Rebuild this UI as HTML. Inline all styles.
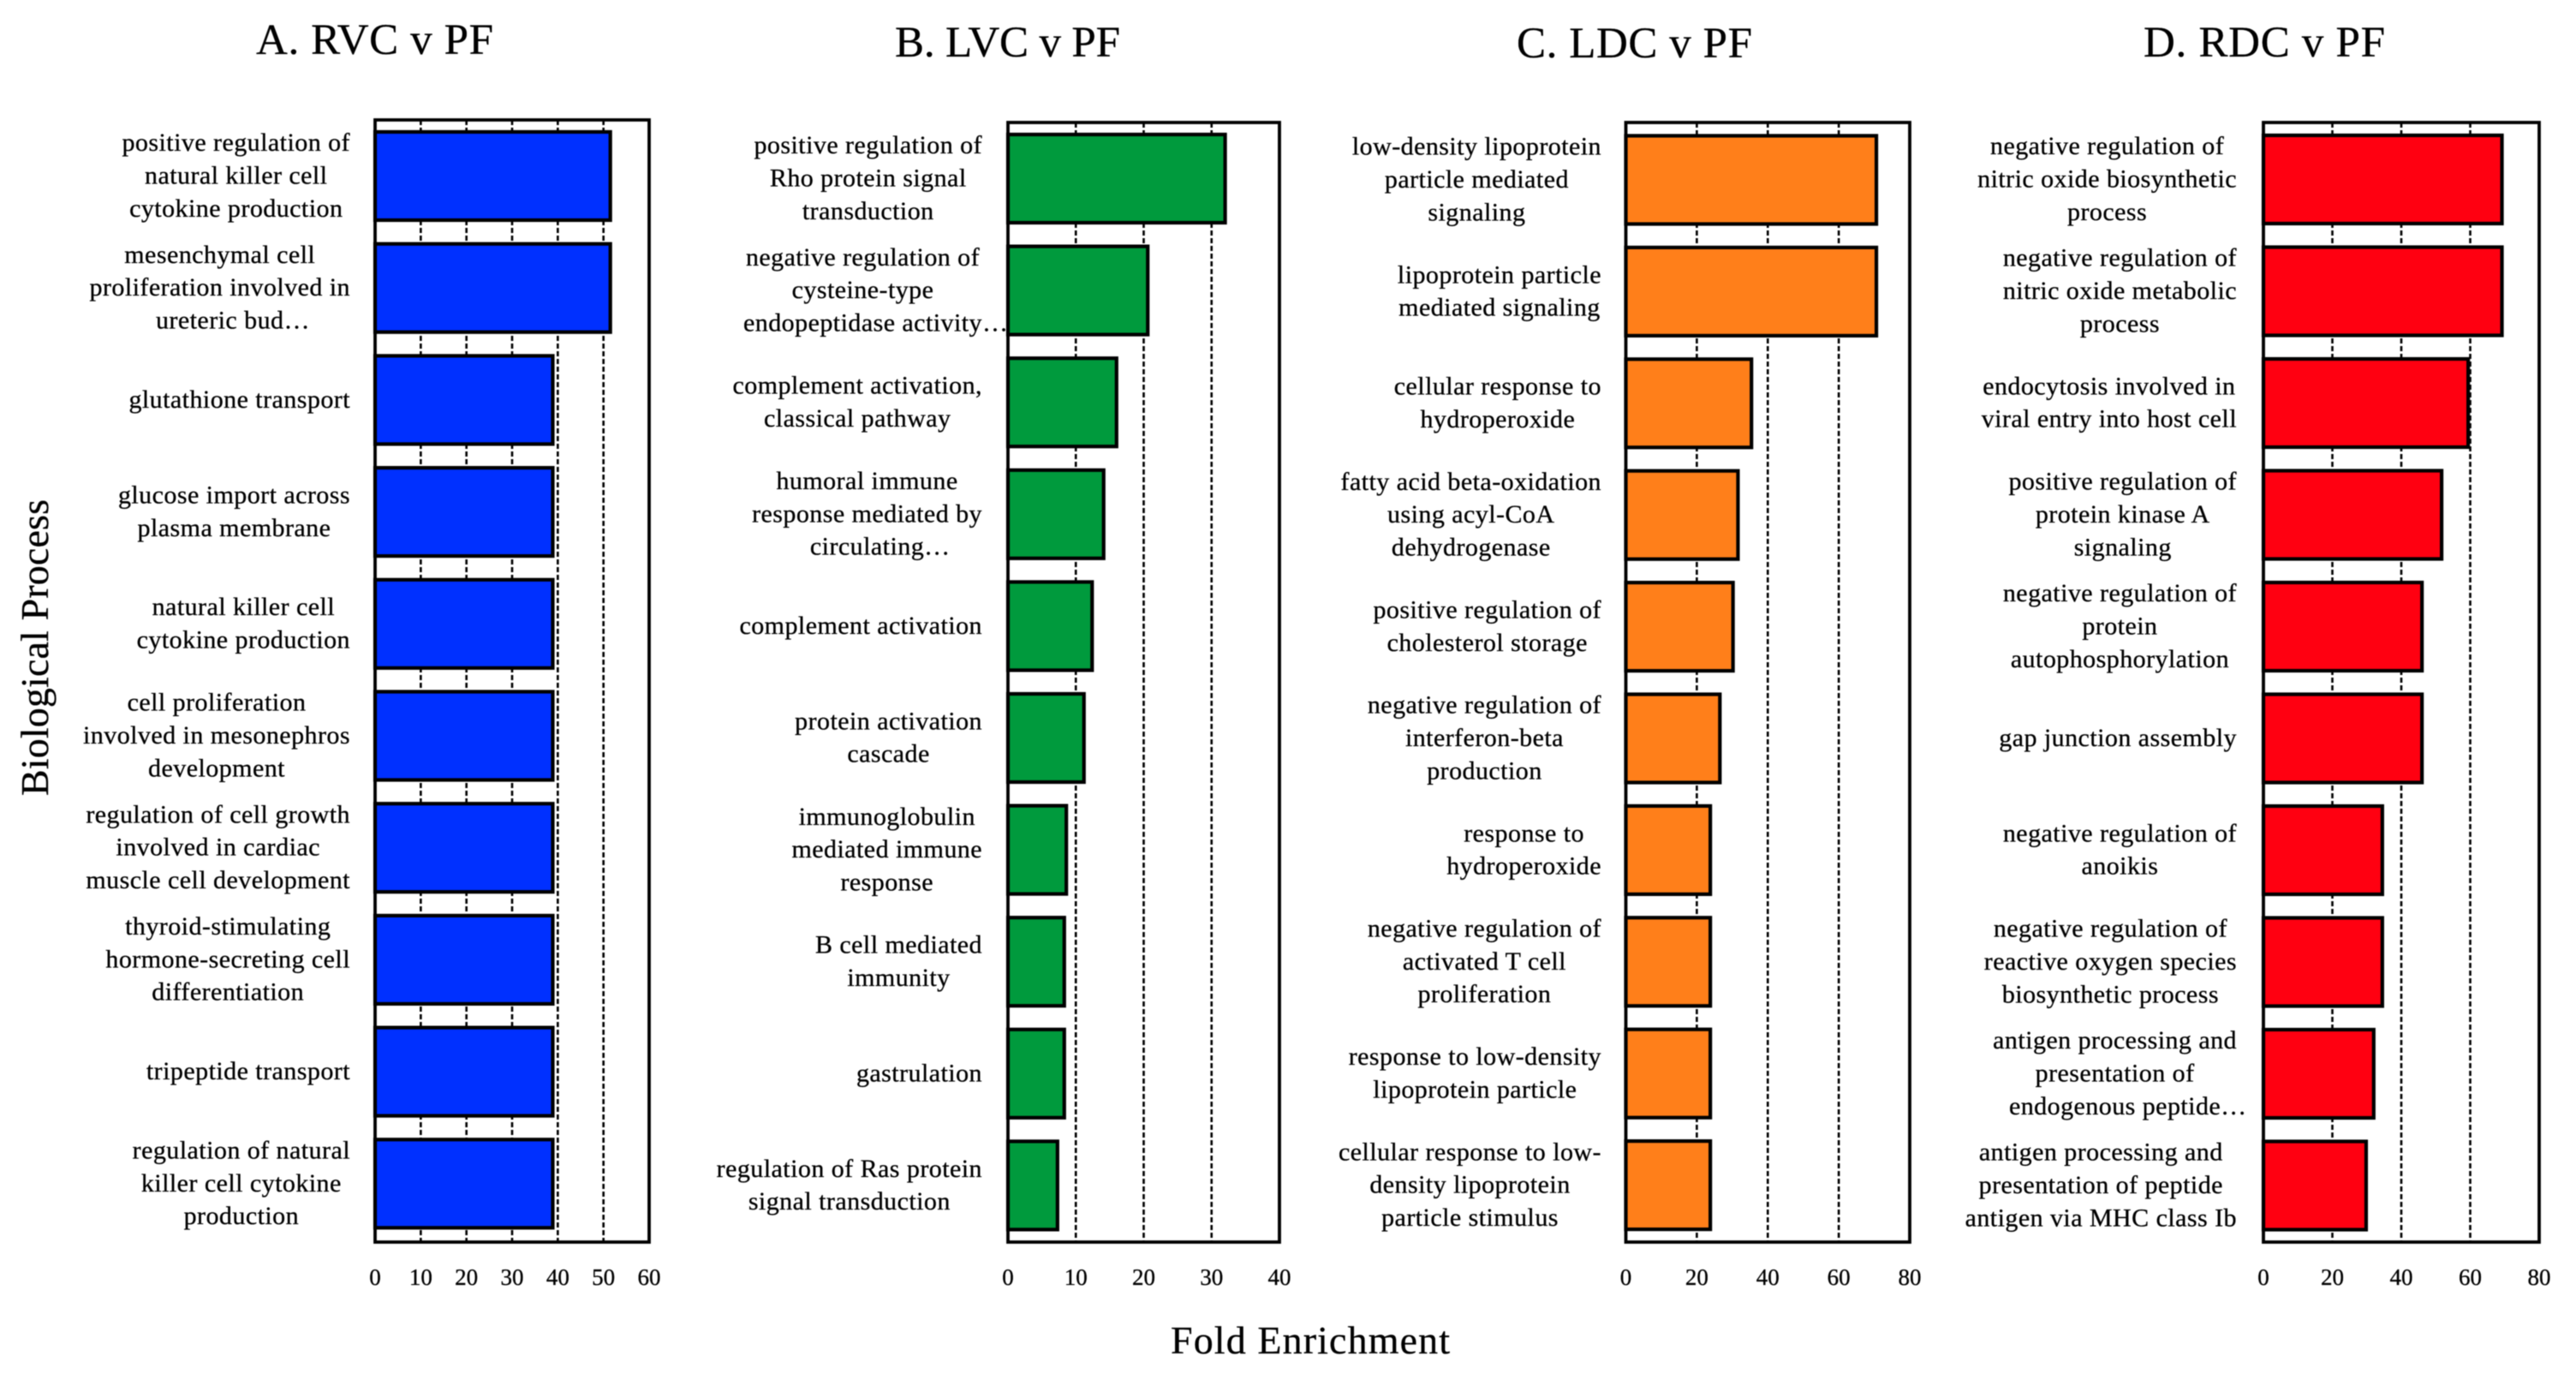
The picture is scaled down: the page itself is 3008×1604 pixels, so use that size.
<!DOCTYPE html>
<html lang="en">
<head>
<meta charset="utf-8">
<title>Fold Enrichment of Biological Processes</title>
<style>
html,body{margin:0;padding:0;background:#fff;width:3008px;height:1604px;overflow:hidden}
svg{display:block;filter:blur(.6px)}
text{font-family:"Liberation Serif",serif;fill:#000;stroke:#000;stroke-width:.3px}
.title{font-size:51px}
.axis-title{font-size:46px}
.tick{font-size:27px;text-anchor:middle}
.cat{font-size:30px;letter-spacing:.45px}
</style>
</head>
<body>
<svg id="chart" xmlns="http://www.w3.org/2000/svg" width="3008" height="1604" viewBox="0 0 3008 1604">
  <rect width="3008" height="1604" fill="#fff"/>
  <text class="title" x="299" y="63" textLength="277" lengthAdjust="spacing">A. RVC v PF</text>
  <text class="title" x="1045" y="66" textLength="263" lengthAdjust="spacing">B. LVC v PF</text>
  <text class="title" x="1771" y="67" textLength="275" lengthAdjust="spacing">C. LDC v PF</text>
  <text class="title" x="2503" y="66" textLength="282" lengthAdjust="spacing">D. RDC v PF</text>
  <text class="axis-title" transform="translate(56 929) rotate(-90)" textLength="346" lengthAdjust="spacing">Biological Process</text>
  <text class="axis-title" x="1367" y="1580" textLength="326" lengthAdjust="spacing">Fold Enrichment</text>
</svg>
<script>
var panelACategories = [
  "positive regulation of\nnatural killer cell\ncytokine production",
  "mesenchymal cell\nproliferation involved in\nureteric bud…",
  "glutathione transport",
  "glucose import across\nplasma membrane",
  "natural killer cell\ncytokine production",
  "cell proliferation\ninvolved in mesonephros\ndevelopment",
  "regulation of cell growth\ninvolved in cardiac\nmuscle cell development",
  "thyroid-stimulating\nhormone-secreting cell\ndifferentiation",
  "tripeptide transport",
  "regulation of natural\nkiller cell cytokine\nproduction"
];
var panelAValues = [51.5, 51.5, 38.9, 38.9, 38.9, 38.9, 38.9, 38.9, 38.9, 38.9];
var panelATicks = [0, 10, 20, 30, 40, 50, 60];

var panelBCategories = [
  "positive regulation of\nRho protein signal\ntransduction",
  "negative regulation of\ncysteine-type\nendopeptidase activity…",
  "complement activation,\nclassical pathway",
  "humoral immune\nresponse mediated by\ncirculating…",
  "complement activation",
  "protein activation\ncascade",
  "immunoglobulin\nmediated immune\nresponse",
  "B cell mediated\nimmunity",
  "gastrulation",
  "regulation of Ras protein\nsignal transduction"
];
var panelBValues = [32, 20.6, 16, 14.1, 12.4, 11.2, 8.6, 8.3, 8.3, 7.3];
var panelBTicks = [0, 10, 20, 30, 40];

var panelCCategories = [
  "low-density lipoprotein\nparticle mediated\nsignaling",
  "lipoprotein particle\nmediated signaling",
  "cellular response to\nhydroperoxide",
  "fatty acid beta-oxidation\nusing acyl-CoA\ndehydrogenase",
  "positive regulation of\ncholesterol storage",
  "negative regulation of\ninterferon-beta\nproduction",
  "response to\nhydroperoxide",
  "negative regulation of\nactivated T cell\nproliferation",
  "response to low-density\nlipoprotein particle",
  "cellular response to low-\ndensity lipoprotein\nparticle stimulus"
];
var panelCValues = [70.6, 70.6, 35.4, 31.6, 30.2, 26.5, 23.8, 23.8, 23.8, 23.8];
var panelCTicks = [0, 20, 40, 60, 80];

var panelDCategories = [
  "negative regulation of\nnitric oxide biosynthetic\nprocess",
  "negative regulation of\nnitric oxide metabolic\nprocess",
  "endocytosis involved in\nviral entry into host cell",
  "positive regulation of\nprotein kinase A\nsignaling",
  "negative regulation of\nprotein\nautophosphorylation",
  "gap junction assembly",
  "negative regulation of\nanoikis",
  "negative regulation of\nreactive oxygen species\nbiosynthetic process",
  "antigen processing and\npresentation of\nendogenous peptide…",
  "antigen processing and\npresentation of peptide\nantigen via MHC class Ib"
];
var panelDValues = [69.2, 69.2, 59.4, 51.7, 46, 46, 34.5, 34.5, 32, 29.8];
var panelDTicks = [0, 20, 40, 60, 80];

var SVGNS = "http://www.w3.org/2000/svg";
var svg = document.getElementById("chart");

function make(tag, attrs, parent) {
  var el = document.createElementNS(SVGNS, tag);
  for (var k in attrs) { el.setAttribute(k, attrs[k]); }
  parent.appendChild(el);
  return el;
}

function lineWidth(str) {
  var t = make("text", { "class": "cat", x: 0, y: -100 }, svg);
  t.textContent = str;
  var w = t.getComputedTextLength();
  svg.removeChild(t);
  return w;
}

function drawPanel(key, cats, vals, ticks, color, g) {
  var group = make("g", {}, svg);
  
  

  var dMax = ticks[ticks.length - 1];
  function xScale(v) { return g.x0 + (g.x1 - g.x0) * v / dMax; }
  function barTop(i) { return g.barFirst + g.pitch * i; }

  ticks.forEach(function (t) {
    if (t === 0 || t === dMax) { return; }
    var line = make("line", {
      x1: xScale(t), x2: xScale(t), y1: g.top, y2: g.bottom,
      stroke: "#000", "stroke-width": 2.6, "stroke-dasharray": "6 3"
    }, group);
    
    
  });

  vals.forEach(function (v, i) {
    var bar = make("rect", {
      x: xScale(0), y: barTop(i), width: xScale(v) - xScale(0), height: g.barH,
      fill: color, stroke: "#000", "stroke-width": 4.2
    }, group);
    
    
  });

  var frame = make("rect", {
    x: g.x0, y: g.top, width: g.x1 - g.x0, height: g.bottom - g.top,
    fill: "none", stroke: "#000", "stroke-width": 3.8
  }, group);
  
  

  ticks.forEach(function (t) {
    var label = make("text", { "class": "tick", x: xScale(t), y: 1500 }, group);
    label.textContent = String(t);
    
    
  });

  cats.forEach(function (cat, i) {
    var lines = cat.split("\n");
    var widths = lines.map(function (s) { return lineWidth(s.replace("…", "")); });
    var center = g.labelRight - Math.max.apply(null, widths) / 2;
    var mid = barTop(i) + g.barH / 2 + 9;
    var text = make("text", { "class": "cat" }, group);
    
    
    lines.forEach(function (s, j) {
      var span = make("tspan", {
        x: center - widths[j] / 2,
        y: mid + (j - (lines.length - 1) / 2) * 38.3
      }, text);
      span.textContent = s;
    });
  });
}

drawPanel("a", panelACategories, panelAValues, panelATicks, "#0030ff",
  { x0: 438, x1: 758, top: 140, bottom: 1450, barFirst: 154, pitch: 130.7, barH: 103, labelRight: 409 });
drawPanel("b", panelBCategories, panelBValues, panelBTicks, "#009a3d",
  { x0: 1177, x1: 1494, top: 143, bottom: 1450, barFirst: 157, pitch: 130.6, barH: 103, labelRight: 1147 });
drawPanel("c", panelCCategories, panelCValues, panelCTicks, "#ff7f1a",
  { x0: 1898.5, x1: 2230, top: 143, bottom: 1450, barFirst: 158.5, pitch: 130.4, barH: 103, labelRight: 1870 });
drawPanel("d", panelDCategories, panelDValues, panelDTicks, "#ff0011",
  { x0: 2643, x1: 2965, top: 143, bottom: 1450, barFirst: 158, pitch: 130.5, barH: 103, labelRight: 2612 });
</script>
</body>
</html>
